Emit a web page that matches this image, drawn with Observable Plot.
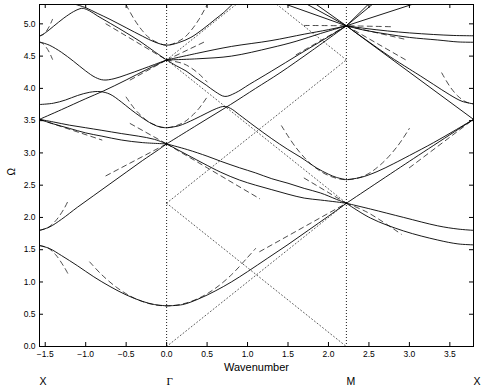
<!DOCTYPE html>
<html><head><meta charset="utf-8">
<script src="https://cdn.jsdelivr.net/npm/d3@7"></script>
<script src="https://cdn.jsdelivr.net/npm/@observablehq/plot@0.6"></script>
<style>body{margin:0;background:#fff} svg{display:block}</style>
</head><body><div id="chart"></div>
<script>
// ---- axis data ----
const xLimits = [-1.5708, 3.7922];
const yLimits = [0, 5.3];
const xTicks = [-1.5, -1, -0.5, 0, 0.5, 1, 1.5, 2, 2.5, 3, 3.5];
const yTicks = [0, 0.5, 1, 1.5, 2, 2.5, 3, 3.5, 4, 4.5, 5];
const symbolLabels = ["X", "Γ", "M", "X"];
const symbolPos = [-1.5708, 0, 2.2214, 3.7922];
const symbolSerif = [false, true, false, false];

// ---- solid bands: X–Γ ----
const xgBand1 = [[-1.571,1.565],[-1.45,1.52],[-1.3,1.41],[-1.1,1.25],[-0.9,1.08],[-0.7,0.93],[-0.5,0.80],[-0.3,0.70],[-0.15,0.65],[0,0.63]];
const xgBand2 = [[-1.571,1.80],[-1.45,1.85],[-1.3,1.97],[-1.1,2.16],[-0.9,2.34],[-0.7,2.52],[-0.5,2.70],[-0.3,2.88],[-0.1,3.05],[0,3.14]];
const xgBand3 = [[-1.571,3.52],[-1.3,3.67],[-1.0,3.84],[-0.78,3.96],[-0.5,4.13],[-0.25,4.29],[0,4.44]];
const xgBand4 = [[-1.571,3.75],[-1.4,3.77],[-1.25,3.82],[-1.1,3.89],[-0.95,3.94],[-0.82,3.95],[-0.7,3.91],[-0.56,3.79],[-0.45,3.68],[-0.32,3.56],[-0.18,3.45],[-0.08,3.40],[0,3.39]];
const xgBand5 = [[-1.571,3.52],[-1.4,3.45],[-1.2,3.38],[-1.0,3.31],[-0.8,3.26],[-0.56,3.20],[-0.3,3.16],[0,3.14]];
const xgBand6 = [[-1.571,3.52],[-1.4,3.48],[-1.2,3.43],[-1.0,3.39],[-0.8,3.35],[-0.56,3.30],[-0.35,3.26],[-0.15,3.21],[0,3.14]];
const xgBand7 = [[-1.571,4.72],[-1.45,4.67],[-1.3,4.56],[-1.15,4.42],[-1.0,4.27],[-0.88,4.17],[-0.78,4.13],[-0.65,4.15],[-0.5,4.21],[-0.3,4.30],[-0.15,4.37],[0,4.44]];
const xgBand8 = [[-1.571,4.81],[-1.5,4.86],[-1.4,4.96],[-1.27,5.09],[-1.15,5.19],[-1.07,5.235],[-1.03,5.24],[-0.95,5.20],[-0.85,5.12],[-0.74,5.04],[-0.55,4.90],[-0.33,4.73],[-0.15,4.57],[0,4.44]];
const vBand = [[-1.12,5.30],[-1.0,5.25],[-0.85,5.16],[-0.7,5.07],[-0.5,4.94],[-0.3,4.81],[-0.15,4.72],[0,4.67],[0.15,4.71],[0.3,4.79],[0.45,4.92],[0.6,5.07],[0.7,5.17],[0.81,5.30]];

// ---- solid bands: Γ–M ----
const gmBand1 = [[0,0.63],[0.2,0.65],[0.4,0.74],[0.6,0.86],[0.8,1.00],[1.0,1.16],[1.25,1.37],[1.5,1.58],[1.75,1.80],[2.0,2.02],[2.221,2.22]];
const gmBand2 = [[0,3.14],[0.26,3.05],[0.5,2.95],[0.67,2.87],[0.9,2.77],[1.1,2.69],[1.3,2.60],[1.5,2.53],[1.7,2.45],[1.9,2.38],[2.1,2.28],[2.221,2.22]];
const gmBand3 = [[0,3.14],[0.15,3.04],[0.3,2.94],[0.45,2.84],[0.67,2.70],[0.9,2.58],[1.1,2.50],[1.3,2.43],[1.5,2.36],[1.7,2.30],[1.9,2.27],[2.1,2.24],[2.221,2.22]];
const gmBand4 = [[0,3.14],[0.4,3.45],[0.79,3.75],[1.1,4.00],[1.4,4.24],[1.8,4.59],[2.221,4.97]];
const gmBand5 = [[0,3.39],[0.15,3.42],[0.34,3.52],[0.5,3.62],[0.62,3.69],[0.71,3.72],[0.79,3.69],[0.9,3.59],[1.08,3.42],[1.3,3.22],[1.49,3.06],[1.66,2.93],[1.85,2.77],[2.0,2.67],[2.1,2.62],[2.221,2.585]];
const gmBand6 = [[0,4.44],[0.12,4.35],[0.24,4.27],[0.36,4.16],[0.49,4.05],[0.6,3.95],[0.72,3.875],[0.85,3.93],[1.02,4.06],[1.3,4.27],[1.64,4.53],[2.0,4.80],[2.221,4.97]];
const gmBand7 = [[0,4.44],[0.4,4.55],[0.8,4.65],[1.29,4.74],[1.7,4.84],[2.0,4.91],[2.221,4.97]];
const gmBand8 = [[0,4.44],[0.4,4.46],[0.8,4.50],[1.29,4.63],[1.6,4.73],[1.9,4.85],[2.221,4.97]];
const gmTop1 = [[1.48,5.30],[2.221,4.97]];
const gmTop2 = [[1.74,5.30],[2.221,4.97]];
const gmTop3 = [[1.85,5.30],[2.221,4.97]];

// ---- solid bands: M–X ----
const mxBand1 = [[2.221,2.22],[2.52,2.13],[2.93,2.00],[3.35,1.87],[3.6,1.82],[3.792,1.80]];
const mxBand2 = [[2.221,2.22],[2.52,1.99],[2.93,1.79],[3.35,1.65],[3.6,1.59],[3.792,1.575]];
const mxBand3 = [[2.221,2.22],[3.0,2.87],[3.792,3.52]];
const mxBand4 = [[2.221,2.585],[2.4,2.62],[2.6,2.71],[2.8,2.83],[3.0,2.96],[3.3,3.16],[3.55,3.34],[3.792,3.52]];
const mxBand5 = [[2.221,4.97],[3.792,3.52]];
const mxBand6 = [[2.221,4.97],[2.5,4.72],[2.75,4.50],[3.0,4.30],[3.14,4.19],[3.3,4.06],[3.5,3.90],[3.65,3.80],[3.792,3.76]];
const mxBand7 = [[2.221,4.97],[2.45,4.93],[2.73,4.89],[3.0,4.86],[3.3,4.835],[3.55,4.82],[3.792,4.815]];
const mxBand8 = [[2.221,4.97],[2.45,4.90],[2.73,4.84],[3.0,4.79],[3.35,4.75],[3.6,4.72],[3.792,4.715]];
const mxTop1 = [[2.221,4.97],[2.49,5.30]];
const mxTop2 = [[2.221,4.97],[2.54,5.30]];
const mxTop3 = [[2.221,4.97],[3.03,5.30]];

// ---- dotted empty-lattice lines (Γ–M) ----
const lightLine1 = [[0,0],[2.221,2.221]];
const lightLine2 = [[0,2.221],[2.221,0]];
const lightLine3 = [[0,2.221],[2.221,4.442]];
const lightLine4 = [[0,4.442],[2.221,2.221]];
const lightLine5 = [[0,4.442],[0.858,5.3]];
const lightLine6 = [[1.363,5.3],[2.221,4.442]];

// ---- dashed approximations ----
const dashX1 = [[-1.571,1.565],[-1.47,1.53],[-1.37,1.42],[-1.27,1.24],[-1.22,1.13]];
const dashX2 = [[-1.571,1.80],[-1.47,1.84],[-1.37,1.95],[-1.27,2.13],[-1.22,2.25]];
const dashG1 = [[-0.95,1.31],[-0.8,1.11],[-0.6,0.90],[-0.4,0.75],[-0.2,0.66],[0,0.63],[0.2,0.66],[0.4,0.75],[0.6,0.90],[0.8,1.11],[1.0,1.38],[1.1,1.52]];
const dashM1 = [[1.15,1.47],[2.221,2.22]];
const dashG2 = [[-0.75,2.645],[0,3.14]];
const dashG3 = [[0,3.14],[1.15,2.29]];
const dashG4 = [[-0.45,3.455],[0,3.14]];
const dashG5 = [[-0.5,3.865],[-0.4,3.69],[-0.3,3.56],[-0.2,3.466],[0,3.39],[0.2,3.466],[0.3,3.56],[0.4,3.69],[0.5,3.865]];
const dashG6 = [[-0.45,4.13],[0,4.44]];
const dashG7 = [[-0.75,5.0],[0,4.44]];
const dashG8 = [[-0.5,5.295],[-0.4,5.07],[-0.3,4.895],[-0.2,4.77],[0,4.67],[0.2,4.77],[0.3,4.895],[0.4,5.07],[0.5,5.295]];
const dashG9 = [[0,4.44],[0.5,4.74]];
const dashG10 = [[0,4.44],[0.2,4.386],[0.3,4.32],[0.4,4.224],[0.5,4.10]];
const dashM2 = [[1.42,3.42],[1.6,3.08],[1.8,2.81],[2.0,2.65],[2.221,2.585],[2.45,2.65],[2.65,2.825],[2.85,3.10],[3.0,3.38]];
const dashM3 = [[1.7,2.61],[2.221,2.22]];
const dashM4 = [[2.221,2.22],[2.48,2.08],[2.9,1.74]];
const dashM5 = [[1.7,4.975],[2.221,4.97],[2.8,4.955]];
const dashM6 = [[2.221,4.97],[2.95,4.445]];
const dashM7 = [[2.221,4.97],[2.95,4.76]];
const dashM8 = [[1.6,4.52],[2.221,4.97]];
const dashX3 = [[3.40,4.24],[3.5,4.03],[3.6,3.88],[3.7,3.79],[3.792,3.76]];
const dashX4 = [[3.0,2.77],[3.792,3.52]];
const dashX5 = [[-1.571,4.81],[-1.53,4.83],[-1.49,4.88],[-1.45,4.96],[-1.41,5.07]];
const dashX6 = [[-1.571,4.715],[-1.53,4.695],[-1.49,4.64],[-1.45,4.56],[-1.41,4.45]];
const dashX7 = [[-1.571,3.52],[-0.8,3.20]];

const solidBands = [xgBand1,xgBand2,xgBand3,xgBand4,xgBand5,xgBand6,xgBand7,xgBand8,vBand,
  gmBand1,gmBand2,gmBand3,gmBand4,gmBand5,gmBand6,gmBand7,gmBand8,gmTop1,gmTop2,gmTop3,
  mxBand1,mxBand2,mxBand3,mxBand4,mxBand5,mxBand6,mxBand7,mxBand8,mxTop1,mxTop2,mxTop3];
const lightLines = [lightLine1,lightLine2,lightLine3,lightLine4,lightLine5,lightLine6];
const dashedLines = [dashX1,dashX2,dashG1,dashM1,dashG2,dashG3,dashG4,dashG5,dashG6,dashG7,dashG8,dashG9,dashG10,
  dashM2,dashM3,dashM4,dashM5,dashM6,dashM7,dashM8,dashX3,dashX4,dashX5,dashX6,dashX7];

const px = d => d[0], py = d => d[1];
const marks = [];
lightLines.forEach(a => marks.push(Plot.line(a, {x: px, y: py, stroke: "#333", strokeWidth: 0.8, strokeDasharray: "1,2.5", clip: true})));
marks.push(Plot.ruleX(symbolPos.slice(1, 3), {stroke: "#000", strokeWidth: 0.9, strokeDasharray: "1,2"}));
dashedLines.forEach(a => marks.push(Plot.line(a, {x: px, y: py, curve: "catmull-rom", stroke: "#111", strokeWidth: 0.75, strokeDasharray: "5,4", clip: true})));
solidBands.forEach(a => marks.push(Plot.line(a, {x: px, y: py, curve: "catmull-rom", stroke: "#000", strokeWidth: 0.9, clip: true})));
marks.push(
  Plot.frame({stroke: "#000", strokeWidth: 1}),
  Plot.tickX(xTicks, {x: d => d, insetTop: 338, stroke: "#000"}),
  Plot.tickX(xTicks, {x: d => d, insetBottom: 338, stroke: "#000"}),
  Plot.tickY(yTicks, {y: d => d, insetRight: 430, stroke: "#000"}),
  Plot.tickY(yTicks, {y: d => d, insetLeft: 430, stroke: "#000"}),
  Plot.axisX({anchor: "bottom", ticks: xTicks, tickSize: 0, tickPadding: 4, label: null}),
  Plot.axisY({anchor: "left", ticks: yTicks, tickSize: 0, tickPadding: 4, label: null}),
  Plot.text(["Wavenumber"], {frameAnchor: "bottom", dy: 21, lineAnchor: "middle", fontSize: 11}),
  Plot.text(symbolLabels, {filter: (d, i) => !symbolSerif[i], x: (d, i) => symbolPos[i], frameAnchor: "bottom", dy: 35, textAnchor: "start", lineAnchor: "middle", fontSize: 10.5}),
  Plot.text(symbolLabels, {filter: (d, i) => symbolSerif[i], x: (d, i) => symbolPos[i], frameAnchor: "bottom", dy: 35, textAnchor: "start", lineAnchor: "middle", fontSize: 11, fontFamily: "'Liberation Serif', 'DejaVu Serif', serif"}),
  Plot.text(["Ω"], {frameAnchor: "left", dx: -28, rotate: -90, fontSize: 10})
);

const chart = Plot.plot({
  width: 488, height: 392,
  marginLeft: 39, marginRight: 15, marginTop: 4, marginBottom: 46,
  x: {domain: xLimits},
  y: {domain: yLimits},
  style: {fontFamily: "'Liberation Sans', Arial, sans-serif", fontSize: "8.5px", background: "#fff", color: "#000"},
  marks
});
document.getElementById("chart").append(chart);
</script></body></html>
